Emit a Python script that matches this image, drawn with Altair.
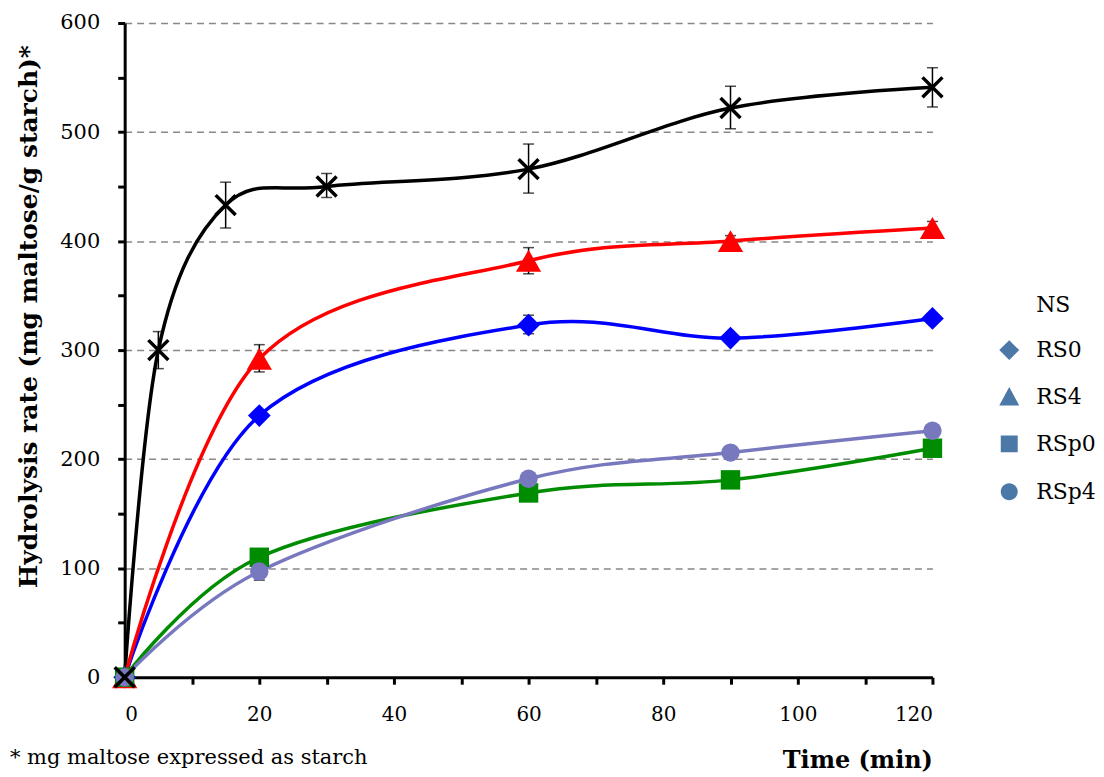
import altair as alt
import pandas as pd

# ---------------- data ----------------
series_names = ["NS", "RS0", "RS4", "RSp0", "RSp4"]
series_colors = ["#000000", "#0000FF", "#FF0000", "#008C00", "#7878BE"]

time_ns = [0, 5, 15, 30, 60, 90, 120]
ns_val = [0, 300, 433, 450, 466, 522, 541]
ns_lo = [0, 283, 412, 440, 444, 503, 523]
ns_hi = [0, 317, 454, 462, 489, 542, 559]

time_rs = [0, 20, 60, 90, 120]
rs0_val = [0, 240, 323, 311, 329]
rs0_lo = [0, 236, 315, 307, 326]
rs0_hi = [0, 244, 332, 315, 332]
rs4_val = [0, 292, 382, 400, 412]
rs4_lo = [0, 280, 370, 396, 407]
rs4_hi = [0, 305, 394, 405, 418]
rsp0_val = [0, 110, 169, 181, 210]
rsp0_lo = [0, 106, 165, 177, 206]
rsp0_hi = [0, 114, 173, 185, 214]
rsp4_val = [0, 97, 182, 206, 226]
rsp4_lo = [0, 89, 178, 202, 222]
rsp4_hi = [0, 104, 186, 210, 230]

x_ticks = list(range(0, 121, 10))
y_ticks = list(range(0, 601, 50))

# ---------------- styles ----------------
X_PATH = "M-1,-1L1,1M-1,1L1,-1"
point_shapes = [X_PATH, "diamond", "triangle-up", "square", "circle"]
point_sizes = [400, 520, 640, 380, 340]
LINE = "M-2.15,0L2.15,0"
legend_shapes = [
    LINE + "M-1,-1L1,1M-1,1L1,-1",
    LINE + "M0,-1L1,0L0,1L-1,0Z",
    LINE + "M0,-1L1,0.85L-1,0.85Z",
    LINE + "M-0.85,-0.85L0.85,-0.85L0.85,0.85L-0.85,0.85Z",
    LINE + "M-0.85,0A0.85,0.85 0 1,0 0.85,0A0.85,0.85 0 1,0 -0.85,0Z",
]
legend_y = [271, 316, 363, 410, 458]

SERIF = "DejaVu Serif"

rows = []
groups = [
    ("NS", time_ns, ns_val, ns_lo, ns_hi),
    ("RS0", time_rs, rs0_val, rs0_lo, rs0_hi),
    ("RS4", time_rs, rs4_val, rs4_lo, rs4_hi),
    ("RSp0", time_rs, rsp0_val, rsp0_lo, rsp0_hi),
    ("RSp4", time_rs, rsp4_val, rsp4_lo, rsp4_hi),
]
for gi, (name, t, v, lo, hi) in enumerate(groups):
    for i in range(len(t)):
        rows.append({
            "series": name, "order": gi, "time": t[i], "value": v[i],
            "lo": lo[i], "hi": hi[i],
            "shape": point_shapes[gi], "size": point_sizes[gi],
        })
df = pd.DataFrame(rows)

color_scale = alt.Scale(domain=series_names, range=series_colors)

x_enc = alt.X(
    "time:Q",
    scale=alt.Scale(domain=[0, 120], nice=False),
    axis=alt.Axis(
        values=x_ticks,
        labelExpr="datum.value % 20 == 0 ? datum.label : ''",
        title="Time (min)",
        titleAnchor="end",
        grid=False,
        domainColor="#000000", domainWidth=3,
        tickColor="#000000", tickWidth=3, tickSize=7,
        labelFont=SERIF, labelFontSize=20, labelColor="#000000", labelPadding=20,
        titleFont=SERIF, titleFontSize=24, titleFontWeight="bold", titleColor="#000000",
        titlePadding=25,
    ),
)
y_enc = alt.Y(
    "value:Q",
    scale=alt.Scale(domain=[0, 600], nice=False),
    axis=alt.Axis(
        values=y_ticks,
        labelExpr="datum.value % 100 == 0 ? datum.label : ''",
        title="Hydrolysis rate (mg maltose/g starch)*",
        grid=True,
        gridColor="#888888", gridWidth=1.5, gridDash=[7, 5],
        gridOpacity={"condition": {"test": "datum.value % 100 == 0 && datum.value > 0", "value": 1}, "value": 0},
        domainColor="#000000", domainWidth=3,
        tickColor="#000000", tickWidth=3, tickSize=7,
        labelFont=SERIF, labelFontSize=21, labelColor="#000000", labelPadding=18,
        titleFont=SERIF, titleFontSize=25, titleFontWeight="bold", titleColor="#000000",
        titlePadding=18, titleY=294,
    ),
)

base = alt.Chart(df)

lines = base.mark_line(interpolate="cardinal", strokeWidth=3.5).encode(
    x=x_enc, y=y_enc,
    color=alt.Color("series:N", scale=color_scale, legend=None),
    detail="series:N",
    order="order:Q",
)

err_rule = base.transform_filter("datum.hi > datum.lo").mark_rule(
    color="#000000", strokeWidth=1.5
).encode(x="time:Q", y="lo:Q", y2="hi:Q")
err_lo = base.transform_filter("datum.hi > datum.lo").mark_tick(
    orient="horizontal", color="#000000", size=11, thickness=1.5
).encode(x="time:Q", y="lo:Q")
err_hi = base.transform_filter("datum.hi > datum.lo").mark_tick(
    orient="horizontal", color="#000000", size=11, thickness=1.5
).encode(x="time:Q", y="hi:Q")

pts = base.transform_filter("datum.series != 'NS'").mark_point(
    filled=True, opacity=1
).encode(
    x="time:Q", y="value:Q",
    color=alt.Color("series:N", scale=color_scale, legend=None),
    shape=alt.Shape("shape:N", scale=None),
    size=alt.Size("size:Q", scale=None),
)
pts_ns = base.transform_filter("datum.series == 'NS'").mark_point(
    filled=False, opacity=1, shape=X_PATH, size=400, strokeWidth=3.5, color="#000000"
).encode(x="time:Q", y="value:Q")

# one single-entry legend per series (independent shape scales, no merging)
legend_layers = []
for i, name in enumerate(series_names):
    lg = alt.Legend(
        title=None, orient="none", legendX=875, legendY=legend_y[i],
        labelFont=SERIF, labelFontSize=22, labelColor="#000000", labelOffset=15,
        symbolSize=400, symbolStrokeWidth=3.5, symbolOpacity=1, padding=0,
        symbolFillColor=series_colors[i], symbolStrokeColor=series_colors[i],
    )
    legend_layers.append(
        base.transform_filter(alt.datum.series == name).mark_point(filled=True, opacity=0.01).encode(
            x="time:Q", y="value:Q",
            shape=alt.Shape("series:N", scale=alt.Scale(domain=[name], range=[legend_shapes[i]]), legend=lg),
        )
    )

footnote = alt.Chart(pd.DataFrame({"t": ["* mg maltose expressed as starch"]})).mark_text(
    align="left", baseline="middle", font=SERIF, fontSize=21, color="#000000"
).encode(text="t:N", x=alt.value(-115), y=alt.value(737))

chart = alt.layer(lines, err_rule, err_lo, err_hi, pts, pts_ns, *legend_layers, footnote).resolve_scale(
    shape="independent"
).properties(
    width=810, height=656,
    background="#ffffff",
    padding={"left": 2, "top": 3, "right": 0, "bottom": 0},
).configure_view(stroke=None)

chart.save("out.html", embed_options={"renderer": "svg", "actions": False})
